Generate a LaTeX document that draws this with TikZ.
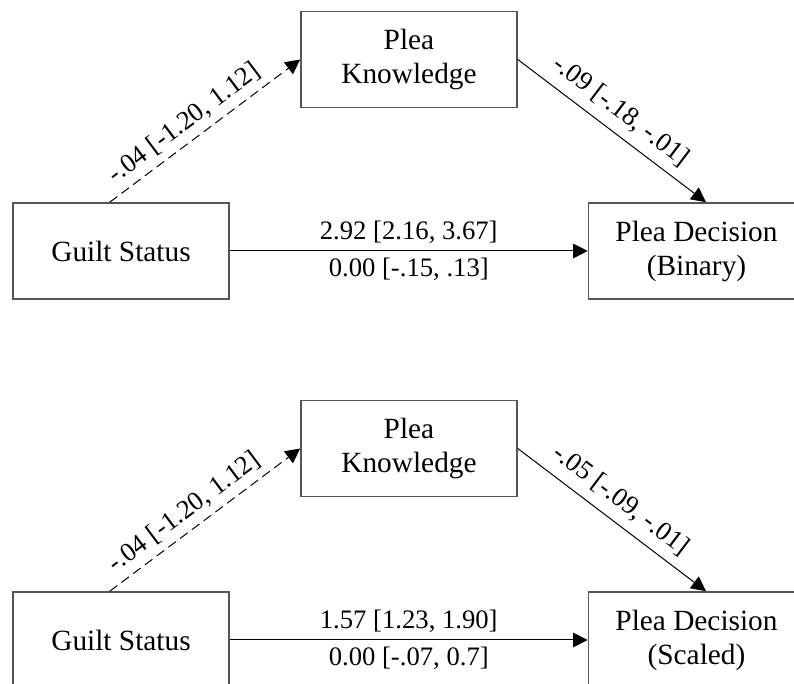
\documentclass[tikz,border=0pt]{standalone}
\usepackage{fontspec}
\setmainfont{Liberation Serif}
\usetikzlibrary{arrows.meta}
\begin{document}
\begin{tikzpicture}[x=0.75pt,y=-0.75pt]
   \tikzstyle{block} = [rectangle, draw={rgb,255:red,85;green,85;blue,85}, line width=1.2pt, minimum width=162pt, minimum height=72pt, inner sep=0pt, align=center, font=\fontsize{22}{25.5}\selectfont]
   \tikzstyle{link} = [black, line width=0.75pt, -{Triangle[length=11pt, width=11pt]}]
   \tikzstyle{coef} = [font=\fontsize{20}{24}\selectfont, inner sep=5pt, minimum height=0pt, minimum width=0pt]

   \useasboundingbox (0,0) rectangle (794,684);
   \clip (0,0) rectangle (794,684);

      \draw
        (121, 251) node[block] (0){Guilt Status}
        (409, 59.5) node[block] (1){Plea\\Knowledge}
        (696.5, 251) node[block] (2){Plea Decision\\(Binary)}
        (121, 640) node[block] (3){Guilt Status}
        (409, 448.5) node[block] (4){Plea\\Knowledge}
        (696.5, 640) node[block] (5){Plea Decision\\(Scaled)};

  % binary
  \begin{scope}[link]
    \draw[dash pattern=on 7pt off 4pt] (0.103) to node[coef, pos=0.45, sloped, above] {-.04 [-1.20, 1.12]} (1.west);
    \draw (1.east) to node[coef, pos=0.48, sloped, above, inner sep=7pt] {-.09 [-.18, -.01]} (2.79);
    \draw (0.east) to node[coef, midway, above] {2.92 [2.16, 3.67]} node[coef, midway, below] {0.00 [-.15, .13]} (2.west);
  \end{scope}

  % scaled
  \begin{scope}[link]
    \draw[dash pattern=on 7pt off 4pt] (3.103) to node[coef, pos=0.45, sloped, above] {-.04 [-1.20, 1.12]} (4.west);
    \draw (4.east) to node[coef, pos=0.48, sloped, above, inner sep=7pt] {-.05 [-.09, -.01]} (5.79);
    \draw (3.east) to node[coef, midway, above] {1.57 [1.23, 1.90]} node[coef, midway, below] {0.00 [-.07, 0.7]} (5.west);
  \end{scope}
\end{tikzpicture}
\end{document}
